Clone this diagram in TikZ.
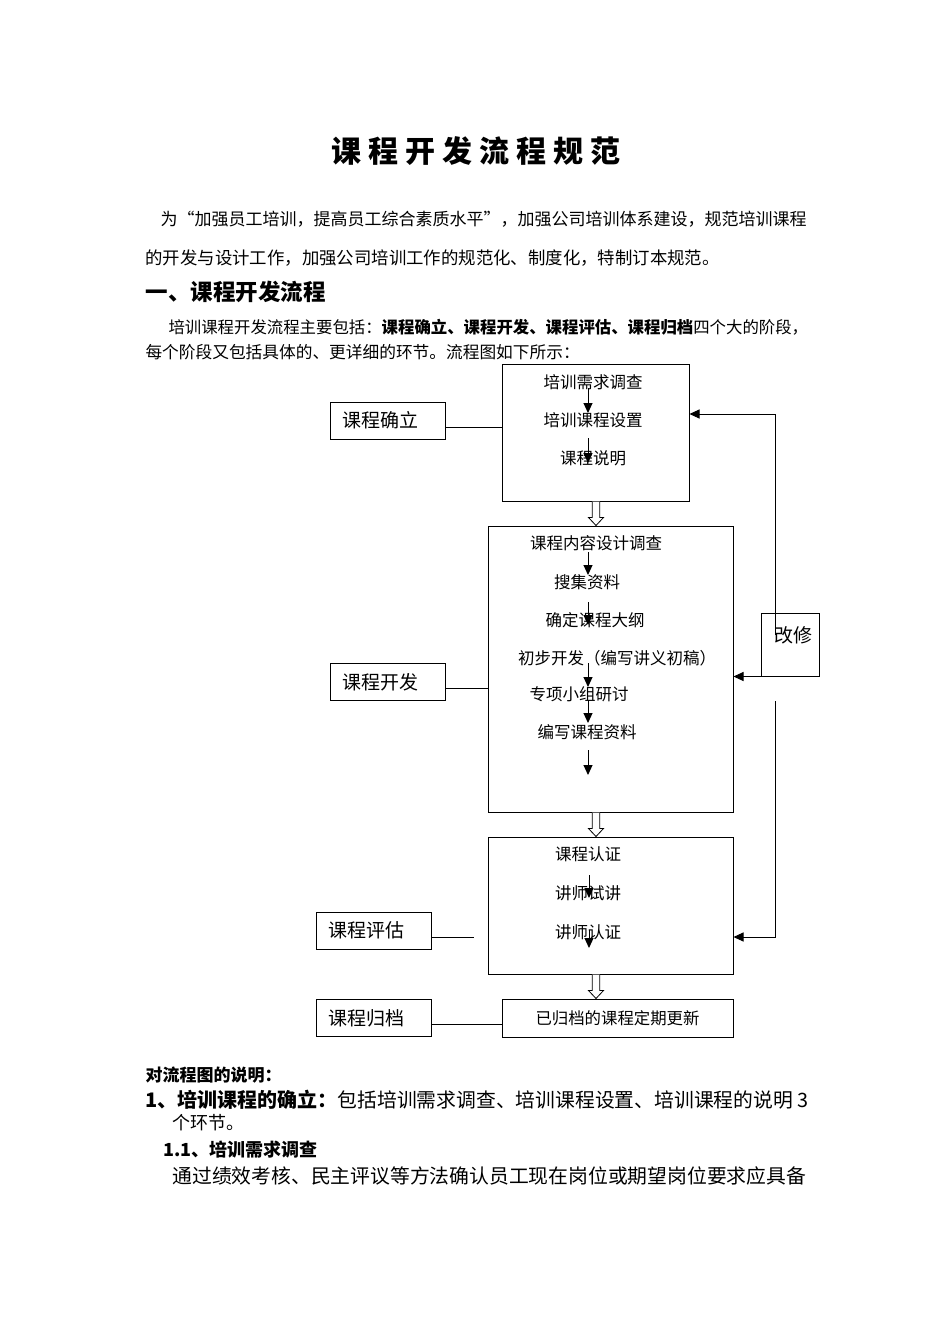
\documentclass[tikz,border=0pt]{standalone}
\usepackage{fontspec}
\usetikzlibrary{arrows.meta,calc}
\newfontfamily\cjk{Noto Sans CJK SC}
\newcommand{\fsz}[1]{\fontsize{#1}{#1}\selectfont}

\begin{document}
\begin{tikzpicture}[x=1pt,y=-1pt,line width=1pt,
  >={Triangle[length=10pt,width=9pt]},
  every node/.style={font=\cjk,inner sep=0pt},
  steptxt/.style={font=\cjk\fsz{16.5}},
  stagebox/.style={draw,text width=91pt,align=left,inner xsep=12pt,minimum height=37pt,font=\cjk\fsz{19}},
  bigbox/.style={draw},
  steparrow/.style={-{Triangle[length=10pt,width=9pt]},line width=1pt},
  hollow/.style={line width=0.8pt,fill=white}]
\fill[white] (0,0) rectangle (950,1344);
\useasboundingbox (0,0) rectangle (950,1344);

% page text
\node[font=\cjk\bfseries\fsz{30}] (title) at (476,151) {课 程 开 发 流 程 规 范};
\node[anchor=west,font=\cjk\fsz{17}] (para1) at (160,219) {为“加强员工培训，提高员工综合素质水平”，加强公司培训体系建设，规范培训课程};
\node[anchor=west,font=\cjk\fsz{17.4}] (para2) at (145,258) {的开发与设计工作，加强公司培训工作的规范化、制度化，特制订本规范。};
\node[anchor=west,font=\cjk\bfseries\fsz{22.5}] (sec1) at (145,292) {一、课程开发流程};
\node[anchor=west,font=\cjk\fsz{16.4}] (intro1) at (168,327) {培训课程开发流程主要包括：{\bfseries 课程确立、课程开发、课程评估、课程归档}四个大的阶段，};
\node[anchor=west,font=\cjk\fsz{16.7}] (intro2) at (145,352) {每个阶段又包括具体的、更详细的环节。流程图如下所示：};

% the four stages
\node[stagebox] (sQueli) at (387.5,420.5) {课程确立};
\node[stagebox] (sKaifa) at (387.5,682) {课程开发};
\node[stagebox] (sPinggu) at (373.5,930.5) {课程评估};
\node[stagebox] (sGuidang) at (373.5,1018) {课程归档};

\node[bigbox,minimum width=187pt,minimum height=137pt] (setup) at (595.5,432.5) {};
\node[bigbox,minimum width=245pt,minimum height=286pt] (develop) at (610.5,669) {};
\node[bigbox,minimum width=245pt,minimum height=137pt] (assess) at (610.5,905.5) {};
\node[bigbox,minimum width=231pt,minimum height=38pt,font=\cjk\fsz{16.4}] (archive) at (617.5,1018) {已归档的课程定期更新};

\draw ([yshift=-6.5pt]sQueli.east) -- ([yshift=-6.5pt]sQueli.east -| setup.west);
\draw ([yshift=-6pt]sKaifa.east) -- ([yshift=-6pt]sKaifa.east -| develop.west);
\coordinate (pgEnd) at (474,937);
\draw ([yshift=-6.5pt]sPinggu.east) -- (pgEnd);
\draw ([yshift=-6pt]sGuidang.east) -- ([yshift=-6pt]sGuidang.east -| archive.west);

% steps
\node[steptxt] (tReq) at (593,382) {培训需求调查};
\node[steptxt] (tSet) at (593,420) {培训课程设置};
\node[steptxt] (tDesc) at (593,458) {课程说明};
\node[steptxt] (tSurvey) at (596,543) {课程内容设计调查};
\node[steptxt] (tCollect) at (587,582) {搜集资料};
\node[steptxt] (tOutline) at (595,620) {确定课程大纲};
\node[steptxt] (tDraft) at (617,658) {初步开发（编写讲义初稿）};
\node[steptxt] (tGroup) at (579,694) {专项小组研讨};
\node[steptxt] (tWrite) at (587,732) {编写课程资料};
\node[steptxt] (tCert) at (588,854) {课程认证};
\node[steptxt] (tTrial) at (588,893) {讲师试讲};
\node[steptxt] (tTeach) at (588,932) {讲师认证};

\coordinate (ax) at (588,0);
\coordinate (bx) at (589,0);
\coordinate (devEnd) at (588,775);
\draw[steparrow] ($(tReq.center -| ax)+(0,6)$) -- ($(tSet.center -| ax)+(0,-7)$);
\draw[steparrow] ($(tSet.center -| ax)+(0,18)$) -- ($(tDesc.center -| ax)+(0,5)$);
\draw[steparrow] ($(tSurvey.center -| ax)+(0,9)$) -- ($(tCollect.center -| ax)+(0,-7)$);
\draw[steparrow] ($(tCollect.center -| ax)+(0,20)$) -- ($(tOutline.center -| ax)+(0,5)$);
\draw[steparrow] ($(tDraft.center -| ax)+(0,5)$) -- ($(tGroup.center -| ax)+(0,-7)$);
\draw[steparrow] ($(tGroup.center -| ax)+(0,6)$) -- ($(tWrite.center -| ax)+(0,-9)$);
\draw[steparrow] ($(tWrite.center -| ax)+(0,18)$) -- (devEnd);
\draw[steparrow] ($(tCert.center -| bx)+(0,21)$) -- ($(tTrial.center -| bx)+(0,5)$);
\draw[steparrow] ($(tTrial.center -| bx)+(0,37)$) -- ($(tTeach.center -| bx)+(0,16)$);

% hollow arrows between stages
\coordinate (hx) at (596,0);
\foreach \a/\b in {setup/develop,develop/assess,assess/archive}
  \draw[hollow] ($(\a.south -| hx)+(-3.8,0)$) -- ($(\b.north -| hx)+(-3.8,-8)$)
    -- ($(\b.north -| hx)+(-7.5,-8)$) -- (\b.north -| hx) -- ($(\b.north -| hx)+(7.5,-8)$)
    -- ($(\b.north -| hx)+(3.8,-8)$) -- ($(\a.south -| hx)+(3.8,0)$);

% revision loop
\node[draw,minimum width=58pt,minimum height=63pt] (revise) at (790,644.5) {};
\node[font=\cjk\fsz{19}] (reviseTxt) at ([xshift=3pt,yshift=9.5pt]revise.center) {改修};
\coordinate (loopTop) at (775,414);
\coordinate (loopMid) at (775,635);
\coordinate (loopLow) at (775,701);
\coordinate (loopBot) at (775,937);
\draw[->] (loopMid) -- (loopTop) -- (loopTop -| setup.east);
\draw[->] (revise.south west) -- (revise.south west -| develop.east);
\draw[->] (loopLow) -- (loopBot) -- (loopBot -| assess.east);

% notes below the chart
\node[anchor=west,font=\cjk\bfseries\fsz{17}] (expl) at (145,1075) {对流程图的说明：};
\node[anchor=west] (item1) at (145,1100) {{\bfseries\fsz{20}1、培训课程的确立：}{\fsz{19.8}包括培训需求调查、培训课程设置、培训课程的说明 3}};
\node[anchor=west,font=\cjk\fsz{18}] (item1b) at (172,1123) {个环节。};
\node[anchor=west,font=\cjk\bfseries\fsz{18}] (item11) at (163,1150) {1.1、培训需求调查};
\node[anchor=west,font=\cjk\fsz{19.8}] (item11a) at (172,1176) {通过绩效考核、民主评议等方法确认员工现在岗位或期望岗位要求应具备};
\end{tikzpicture}
\end{document}
